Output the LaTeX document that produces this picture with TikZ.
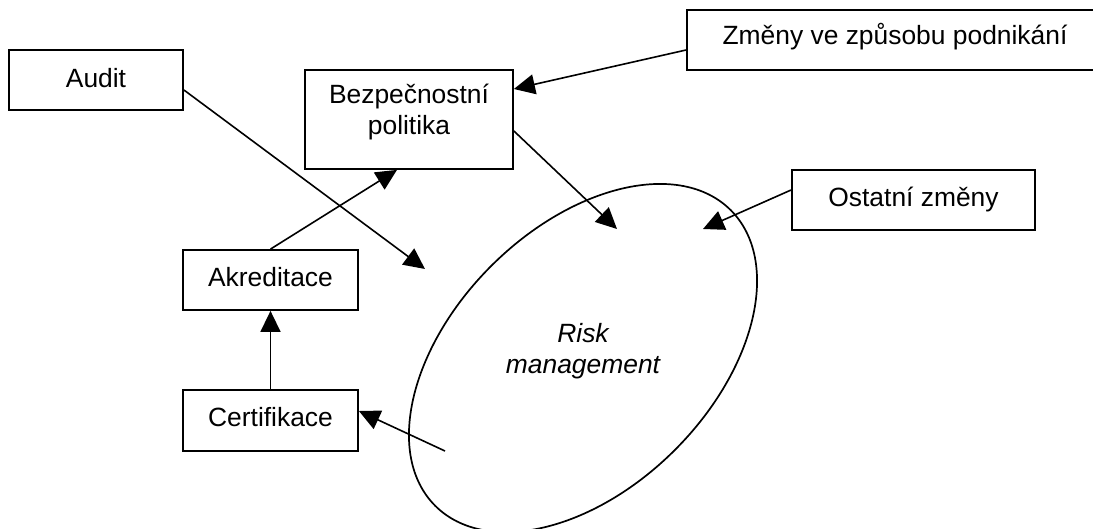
\documentclass[tikz,border=0pt]{standalone}
\usepackage{fontspec}
\setmainfont{Liberation Sans}
\usetikzlibrary{arrows.meta,shapes.geometric}
\begin{document}
\begin{tikzpicture}[x=1pt,y=-1pt,
  every node/.style={font=\fontsize{26.4}{30.4}\selectfont},
  box/.style={draw, line width=1.8pt, rectangle, inner sep=0pt},
  link/.style={line width=1.6pt, -{Triangle[length=21pt,width=20pt]}}]
\useasboundingbox (0,0) rectangle (1093,529);
\clip (0,0) rectangle (1093,529);

% boxes
\node[box, minimum width=174pt, minimum height=60pt] (audit) at (96,80) {};
\node at (96,78) {Audit};
\node[box, minimum width=208pt, minimum height=99pt] (bezp) at (409,119.5) {};
\node[align=center] at (409,112) {Bezpečnostní\\politika};
\node[box, minimum width=416pt, minimum height=60pt] (zmeny) at (895,40) {};
\node at (895,37) {Změny ve způsobu podnikání};
\node[box, minimum width=243pt, minimum height=60pt] (ostatni) at (913.5,200) {};
\node at (913.5,200) {Ostatní změny};
\node[box, minimum width=175pt, minimum height=60pt] (akred) at (270.5,280) {};
\node at (270.5,277) {Akreditace};
\node[box, minimum width=175pt, minimum height=61pt] (cert) at (270.5,420.5) {};
\node at (270.5,417) {Certifikace};

% risk management ellipse
\node[draw, line width=1.7pt, ellipse, inner sep=0pt, rotate=45,
      minimum width=418pt, minimum height=260pt] (risk) at (583,358) {};
\node[align=center, font=\fontsize{26.4}{31}\selectfont\itshape] at (583,351) {Risk\\management};

% free ends inside the ellipse
\coordinate (ra) at (425,269);
\coordinate (rb) at (617,229);
\coordinate (ro) at (703,229);
\coordinate (rc) at (445,451);

% connectors
\draw[link] ([yshift=-10pt]audit.east) -- (ra);
\draw[link] ([yshift=-11.5pt]bezp.east) -- (rb);
\draw[link] ([yshift=-10pt]zmeny.west) -- ([yshift=30.5pt]bezp.east);
\draw[link] ([yshift=10pt]ostatni.west) -- (ro);
\draw[link] (akred.north) -- ([xshift=-12pt]bezp.south);
\draw[link] (cert.north) -- (akred.south);
\draw[link] (rc) -- ([yshift=9.5pt]cert.east);
\end{tikzpicture}
\end{document}
